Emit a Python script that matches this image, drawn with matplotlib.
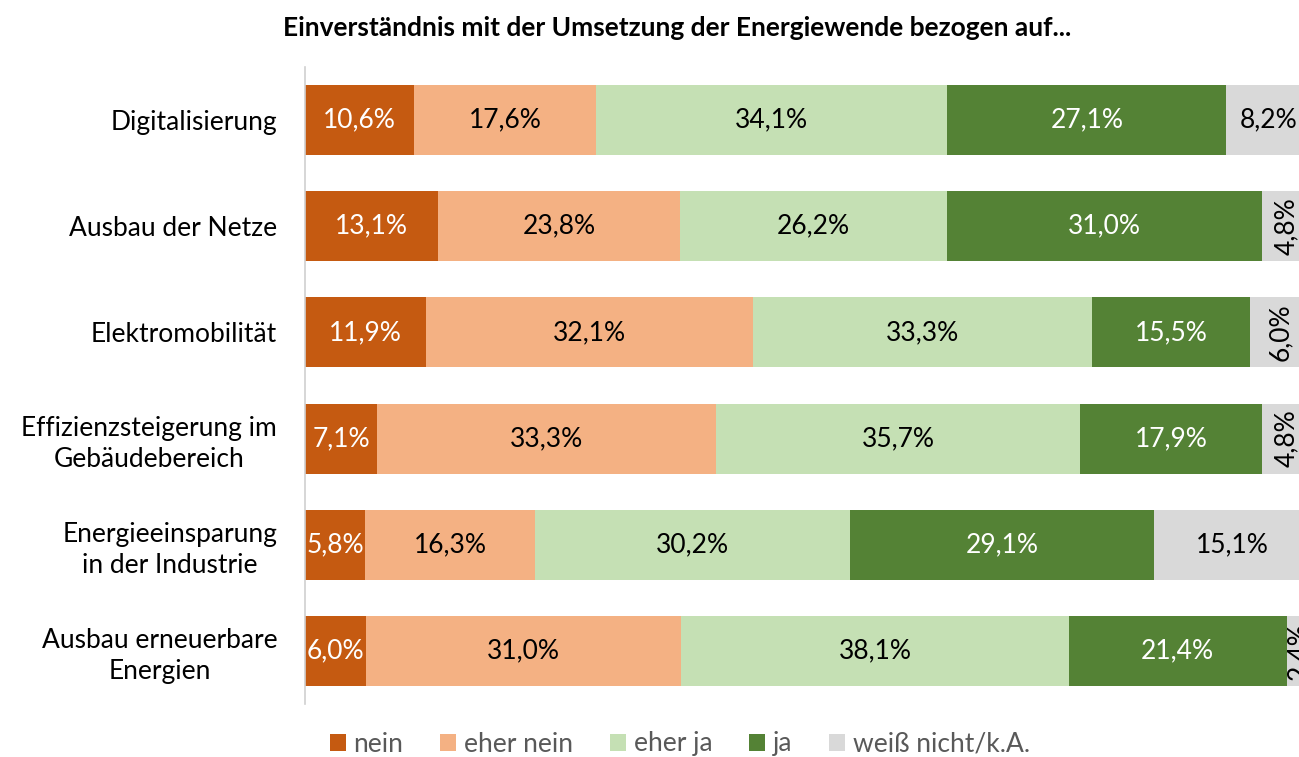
import numpy as np
import matplotlib.pyplot as plt

plt.rcParams['font.family'] = ['Lato', 'DejaVu Sans']

categories = ["Digitalisierung", "Ausbau der Netze", "Elektromobilität",
              "Effizienzsteigerung im\nGebäudebereich",
              "Energieeinsparung\nin der Industrie",
              "Ausbau erneuerbare\nEnergien"]
series = ["nein", "eher nein", "eher ja", "ja", "weiß nicht/k.A."]
nein = [10.6, 13.1, 11.9, 7.1, 5.8, 6.0]
eher_nein = [17.6, 23.8, 32.1, 33.3, 16.3, 31.0]
eher_ja = [34.1, 26.2, 33.3, 35.7, 30.2, 38.1]
ja = [27.1, 31.0, 15.5, 17.9, 29.1, 21.4]
weiss_nicht = [8.2, 4.8, 6.0, 4.8, 15.1, 2.4]

values = np.array([nein, eher_nein, eher_ja, ja, weiss_nicht])
colors = ["#C55A11", "#F4B183", "#C5E0B4", "#548235", "#D9D9D9"]
txtcol = ["white", "black", "black", "white", "black"]

# 100% stacked: each row scaled to its own total
shares = values / values.sum(axis=0) * 100

W, H = 1299, 757
fig = plt.figure(figsize=(W / 100, H / 100), dpi=100)
# the plot area runs past the right edge of the figure, as in the original
ax = fig.add_axes([305 / W, 1 - 704 / H, 1006 / W, (704 - 67) / H])

y = np.arange(len(categories))
left = np.zeros(len(categories))
fs = 19
for k in range(len(series)):
    w = shares[k]
    ax.barh(y, w, left=left, height=0.66, color=colors[k], label=series[k])
    for i in range(len(categories)):
        xc = left[i] + w[i] / 2
        lab = f"{values[k][i]:.1f}%".replace(".", ",")
        if k == 4 and values[k][i] < 7:
            ax.text(xc, y[i], lab, rotation=90, ha='center', va='center',
                    fontsize=fs, color=txtcol[k])
        else:
            ax.text(xc, y[i], lab, ha='center', va='center',
                    fontsize=fs, color=txtcol[k])
    left += w

ax.set_xlim(0, 100)
ax.set_ylim(len(categories) - 0.5, -0.5)
ax.set_yticks(y)
ax.set_yticklabels(categories, fontsize=fs, multialignment='center',
                   linespacing=1.3)
ax.tick_params(axis='y', length=0, pad=20)
ax.set_xticks([])
for s in ['top', 'right', 'bottom']:
    ax.spines[s].set_visible(False)
ax.spines['left'].set_color('#D0D0D0')
ax.spines['left'].set_linewidth(1.2)

fig.text(677 / W, 1 - 28 / H, "Einverständnis mit der Umsetzung der Energiewende bezogen auf...",
         ha='center', va='center', fontsize=fs, fontweight='bold')

fig.legend(loc='center', bbox_to_anchor=(680 / W, 1 - 744 / H), ncol=5,
           frameon=False, fontsize=fs, handlelength=0.6, handleheight=0.6,
           handletextpad=0.3, columnspacing=1.4, labelcolor='#595959')

fig.savefig("out.png", dpi=100)
